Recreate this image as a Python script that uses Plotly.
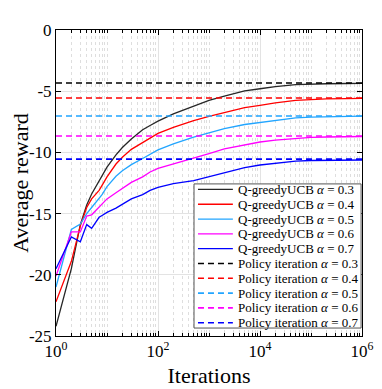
import plotly.graph_objects as go

iterations = [1, 2, 3, 4, 5, 6, 7, 8, 10, 15, 20, 30, 50, 70, 100, 200, 500,
              1000, 2000, 5000, 1e4, 2e4, 5e4, 1e5, 2e5, 5e5, 1e6]

ucb_03 = [-24.2, -19.5, -15.9, -14.3, -13.4, -12.8, -12.3, -11.9, -11.2, -10.2, -9.6,
          -8.9, -8.15, -7.8, -7.45, -6.85, -6.2, -5.75, -5.4, -4.98, -4.8, -4.63,
          -4.47, -4.42, -4.39, -4.37, -4.36]
ucb_04 = [-22.2, -18.9, -16.0, -14.5, -13.8, -13.4, -13.1, -12.7, -12.0, -10.95, -10.4,
          -9.75, -9.2, -8.85, -8.45, -7.95, -7.4, -7.05, -6.75, -6.35, -6.15, -5.95,
          -5.75, -5.68, -5.63, -5.6, -5.58]
ucb_05 = [-21.0, -16.3, -15.85, -15.0, -14.5, -14.1, -13.8, -13.45, -12.8, -11.95, -11.5,
          -11.0, -10.5, -10.15, -9.8, -9.3, -8.75, -8.4, -8.05, -7.72, -7.55, -7.38,
          -7.18, -7.12, -7.08, -7.05, -7.04]
ucb_06 = [-20.1, -16.5, -16.5, -15.2, -15.1, -14.75, -14.45, -14.2, -13.8, -13.3, -12.95,
          -12.45, -12.0, -11.6, -11.3, -10.95, -10.45, -10.1, -9.72, -9.4, -9.15, -9.0,
          -8.86, -8.78, -8.74, -8.71, -8.7]
ucb_07 = [-19.5, -16.9, -17.3, -15.9, -16.2, -15.7, -15.3, -15.15, -14.9, -14.55, -14.25,
          -13.8, -13.45, -13.1, -12.85, -12.55, -12.3, -12.0, -11.7, -11.25, -11.03, -10.88,
          -10.72, -10.66, -10.63, -10.62, -10.62]

alphas = ["0.3", "0.4", "0.5", "0.6", "0.7"]
policy_iteration = [-4.33, -5.56, -7.03, -8.66, -10.55]

colors = ["#262626", "#ff0000", "#22a5ff", "#ff00ff", "#0000ff"]
dash_colors = ["#000000", "#ff0000", "#22a5ff", "#ff00ff", "#0000ff"]

y_ticks = [-25, -20, -15, -10, -5, 0]
y_ticktext = ["-25", "-20", "-15", "-10", "-5", "0"]
x_ticks = [1, 100, 1e4, 1e6]
x_ticktext = ["10<sup>0</sup>", "10<sup>2</sup>", "10<sup>4</sup>", "10<sup>6</sup>"]

FONT = "Liberation Serif"
SOLID_W = 1.3
DASH_W = 1.6
DASH = "6px,4px"

fig = go.Figure()

entries = []
for a, ys, c in zip(alphas, [ucb_03, ucb_04, ucb_05, ucb_06, ucb_07], colors):
    fig.add_trace(
        go.Scatter(
            x=iterations,
            y=ys,
            mode="lines",
            line=dict(color=c, width=SOLID_W),
            showlegend=False
        )
    )
    entries.append((f"Q-greedyUCB <i>α</i> = {a}", c, "solid", SOLID_W))

for a, v, c in zip(alphas, policy_iteration, dash_colors):
    fig.add_trace(
        go.Scatter(
            x=[iterations[0], iterations[-1]],
            y=[v, v],
            mode="lines",
            line=dict(color=c, width=DASH_W, dash=DASH),
            showlegend=False
        )
    )
    entries.append((f"Policy iteration <i>α</i> = {a}", c, DASH, DASH_W))

# hand-built legend (plotly's own rows are too tall for 10 entries here)
box = dict(x0=0.451, x1=0.997, y0=0.026, y1=0.497)
fig.add_shape(
    type="rect", xref="paper", yref="paper",
    fillcolor="#fff", line=dict(color="#555", width=1), **box
)
row_top = 0.479
row_step = 0.0484
for i, (label, c, dash, w) in enumerate(entries):
    yy = row_top - i * row_step
    fig.add_shape(
        type="line", xref="paper", yref="paper",
        x0=0.464, x1=0.578, y0=yy, y1=yy,
        line=dict(color=c, width=w, dash=dash)
    )
    fig.add_annotation(
        xref="paper", yref="paper", x=0.588, y=yy,
        text=label, showarrow=False,
        xanchor="left", yanchor="middle",
        font=dict(size=13, family=FONT, color="#000")
    )

fig.update_xaxes(
    type="log",
    range=[0, 6],
    tickmode="array",
    tickvals=x_ticks,
    ticktext=x_ticktext,
    showline=True,
    linecolor="black",
    linewidth=1,
    mirror="allticks",
    ticks="inside",
    ticklen=5,
    tickcolor="black",
    showgrid=True,
    gridcolor="#e3e3e3",
    gridwidth=1,
    zeroline=False,
    tickfont=dict(size=17),
    title=dict(text="Iterations", font=dict(size=22), standoff=7),
    minor=dict(
        dtick="D1",
        ticks="inside",
        ticklen=3,
        tickcolor="black",
        showgrid=True,
        gridcolor="#dedede",
        griddash="dot",
        gridwidth=1
    )
)

fig.update_yaxes(
    range=[-25, 0],
    tickmode="array",
    tickvals=y_ticks,
    ticktext=y_ticktext,
    showline=True,
    linecolor="black",
    linewidth=1,
    mirror="allticks",
    ticks="inside",
    ticklen=5,
    tickcolor="black",
    showgrid=True,
    gridcolor="#e3e3e3",
    gridwidth=1,
    zeroline=False,
    tickfont=dict(size=17),
    title=dict(text="Average reward", font=dict(size=22), standoff=11)
)

# page body has an 8px margin, so the figure is sized 8px smaller
fig.update_layout(
    width=374,
    height=381,
    font=dict(family=FONT, color="#000"),
    plot_bgcolor="#fff",
    paper_bgcolor="#fff",
    showlegend=False,
    margin=dict(l=48, r=20, t=22, b=53, autoexpand=False)
)

fig.write_html("out.html")
